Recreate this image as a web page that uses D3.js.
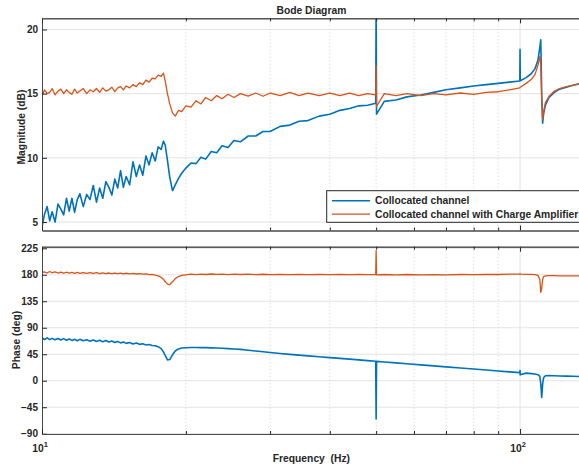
<!DOCTYPE html>
<html>
<head>
<meta charset="utf-8">
<script src="https://cdn.jsdelivr.net/npm/d3@7"></script>
<style>
body { margin: 0; background: #fff; overflow: hidden; }
svg text { font-family: "Liberation Sans", Arial, sans-serif; font-weight: bold; fill: #262626; }
</style>
</head>
<body>
<svg width="579" height="468"></svg>
<script>
// frequency points (Hz)
var freq = [
    10.0, 10.12, 10.25, 10.38, 10.5, 10.65, 10.8, 10.95, 11.1, 11.25,
    11.4, 11.55, 11.7, 11.85, 12.0, 12.2, 12.4, 12.6, 12.8, 13.0,
    13.2, 13.4, 13.6, 13.8, 14.0, 14.2, 14.4, 14.6, 14.8, 15.0,
    15.25, 15.5, 15.75, 16.0, 16.25, 16.5, 16.75, 17.0, 17.25, 17.5,
    17.75, 17.95, 18.1, 18.3, 18.5, 18.75, 19.0, 19.3, 19.6, 20.0,
    20.5, 21.0, 21.5, 22.0, 22.6, 23.2, 23.8, 24.5, 25.2, 26.0,
    27, 28, 29, 30, 31.5, 33, 34.5, 36, 38, 40,
    42, 44, 46, 48, 49.9, 50.0, 50.1, 52, 55, 58,
    62, 66, 70, 75, 80, 85, 90, 95, 99.9, 100.0,
    100.1, 103, 105.5, 107.5, 109, 110, 110.5, 111, 111.5, 112,
    113, 115, 118, 121, 125, 129, 134
];

// magnitude (dB)
var blueMag = [
    4.6, 5.6, 6.2, 5.1, 5.8, 5.0, 6.4, 6.0, 5.55, 6.85,
    5.85, 6.85, 5.75, 6.75, 7.2, 6.2, 7.15, 6.75, 7.85, 6.55,
    7.65, 6.85, 8.15, 7.7, 7.1, 8.35, 7.65, 9.0, 7.7, 8.55,
    7.9, 9.7, 8.55, 9.45, 8.65, 10.15, 9.45, 10.4, 9.75, 10.85,
    10.65, 11.3, 11.0, 9.8, 8.5, 7.45, 7.9, 8.4, 8.8, 9.2,
    9.6, 9.55, 10.05, 9.9, 10.5, 10.4, 10.95, 10.8, 11.35, 11.25,
    11.7, 11.7, 12.05, 12.05, 12.45, 12.55, 12.85, 12.9, 13.25, 13.4,
    13.7, 13.85, 14.05, 14.1, 14.25, 22, 13.4, 14.4, 14.5, 14.75,
    14.9, 15.1, 15.3, 15.45, 15.6, 15.7, 15.8, 15.9, 15.98, 18.45,
    16.0, 16.25, 16.55, 16.95, 17.6, 18.6, 19.2, 15.0, 12.7, 13.4,
    14.1, 14.7, 15.1, 15.35, 15.5, 15.65, 15.8
];
var orangeMag = [
    14.8, 15.3, 15.0, 15.1, 15.4, 14.9, 15.2, 15.35, 15.0, 15.3,
    15.1, 14.95, 15.35, 15.05, 15.2, 15.4, 15.0, 15.3, 15.15, 15.4,
    15.1, 15.45, 15.2, 15.3, 15.5, 15.15, 15.45, 15.55, 15.3, 15.6,
    15.45, 15.7, 15.55, 15.85, 15.7, 16.05, 15.9, 16.2, 16.15, 16.45,
    16.35, 16.6, 16.0, 15.0, 14.2, 13.5, 13.25, 13.7, 13.6, 14.05,
    13.95, 14.45, 14.2, 14.7, 14.45, 14.85, 14.6, 14.95, 14.7, 15.0,
    14.8, 15.05, 14.8, 15.05, 14.85, 15.1, 14.85, 15.05, 14.85, 15.05,
    14.85, 15.05, 14.85, 15.0, 14.9, 17.2, 14.0, 15.0, 14.85, 15.0,
    14.85, 15.0, 14.9, 15.05, 14.95, 15.1, 15.15, 15.3, 15.45, 15.5,
    15.5, 15.8, 16.1, 16.5, 17.2, 17.9, 17.3, 14.5, 13.0, 13.6,
    14.3, 14.8, 15.2, 15.4, 15.55, 15.65, 15.8
];

// phase (deg)
var bluePhase = [
    72.5, 70.0, 72.8, 69.8, 72.0, 69.5, 71.8, 69.2, 71.5, 68.8,
    71.0, 68.5, 70.5, 68.0, 70.3, 67.8, 69.8, 67.2, 69.2, 66.8,
    68.7, 66.3, 68.2, 65.8, 67.5, 65.0, 66.8, 64.3, 66.0, 63.5,
    65.0, 62.5, 64.0, 61.8, 62.8, 60.8, 61.5, 59.8, 59.5, 57.8,
    54.5, 49.0, 43.0, 35.5, 36.0, 44.0, 50.5, 54.0, 55.5, 56.0,
    56.5, 56.5, 56.3, 56.2, 55.9, 55.6, 55.2, 54.6, 54.0, 53.2,
    51.8, 50.5, 49.3, 48.0, 46.3, 44.8, 43.5, 42.3, 40.8, 39.3,
    38.0, 36.7, 35.4, 34.2, 33.1, -65, 32.9, 31.9, 30.3, 28.8,
    27.0, 25.2, 23.6, 21.7, 19.9, 18.2, 16.6, 15.1, 13.7, 17.5,
    10.0, 12.9, 12.1, 11.4, 10.2, 7.5, -5, -28.5, -6, 5,
    8.5, 8.8, 8.4, 8.1, 7.8, 7.5, 7.2
];
var orangePhase = [
    183.5, 185.0, 183.0, 185.5, 183.5, 184.8, 183.0, 184.5, 182.8, 184.3,
    183.0, 184.0, 182.5, 184.0, 182.5, 183.8, 182.3, 183.5, 182.3, 183.5,
    182.0, 183.3, 182.0, 183.0, 181.8, 183.0, 181.8, 182.8, 181.5, 182.6,
    181.5, 182.4, 181.3, 182.0, 181.0, 181.5, 180.3, 180.5, 179.3, 178.0,
    175.5, 172.5, 168.5, 164.0, 163.5, 168.0, 173.5, 177.0, 179.0, 180.0,
    181.0, 180.4, 181.2, 180.5, 181.3, 180.6, 181.0, 180.4, 181.2, 180.5,
    181.0, 180.3, 180.9, 180.3, 180.8, 180.2, 180.8, 180.2, 180.7, 180.2,
    180.6, 180.1, 180.6, 180.1, 180.3, 221.0, 180.0, 180.5, 180.0, 180.5,
    180.0, 180.4, 180.0, 180.5, 180.3, 180.8, 180.5, 181.0, 181.0, 182.5,
    181.2, 180.8, 180.6, 180.2, 179.0, 172.0, 150.0, 157.0, 172.0, 177.0,
    178.0, 178.5, 178.5, 178.3, 178.2, 178.0, 178.0
];

var magTicks = [5, 10, 15, 20];
var phaseTicks = [-90, -45, 0, 45, 90, 135, 180, 225];
var decadeTicks = [10, 100];
var minorTicks = [20, 30, 40, 50, 60, 70, 80, 90];
var seriesNames = ['Collocated channel', 'Collocated channel with Charge Amplifier'];
var colors = ['#0072bd', '#d95319'];
var widths = [1.6, 1.3];

var left = 42, right = 580.8;
var magBox = {top: 18.3, bottom: 230.5};
var phBox = {top: 246.7, bottom: 434};

var svg = d3.select('svg');

//scales
var xScale = d3.scaleLog()
    .domain([10, 134])
    .range([left, right]);
var yMag = d3.scaleLinear()
    .domain([4.34, 20.87])
    .range([magBox.bottom, magBox.top]);
var yPh = d3.scaleLinear()
    .domain([-90.5, 227.7])
    .range([phBox.bottom, phBox.top]);

function panel(id, box, yScale, yTicks, ys, label, labelX, labelY) {
    var g = svg.append('g');

    g.append('clipPath').attr('id', id)
        .append('rect')
        .attr('x', left).attr('y', box.top)
        .attr('width', right - left).attr('height', box.bottom - box.top);

    // grid
    g.selectAll('.hgrid').data(yTicks).enter().append('line')
        .attr('x1', left).attr('x2', right)
        .attr('y1', d => yScale(d)).attr('y2', d => yScale(d))
        .attr('stroke', '#e3e3e3').attr('stroke-width', 1);
    g.selectAll('.vminor').data(minorTicks).enter().append('line')
        .attr('x1', d => xScale(d)).attr('x2', d => xScale(d))
        .attr('y1', box.top).attr('y2', box.bottom)
        .attr('stroke', '#cfcfcf').attr('stroke-width', 1)
        .attr('stroke-dasharray', '1,2.5');
    g.append('line')
        .attr('x1', xScale(100)).attr('x2', xScale(100))
        .attr('y1', box.top).attr('y2', box.bottom)
        .attr('stroke', '#e3e3e3').attr('stroke-width', 1);

    // curves
    var line = d3.line()
        .x((d, i) => xScale(freq[i]))
        .y(d => yScale(d));
    ys.forEach(function(s, k) {
        g.append('path')
            .datum(s)
            .attr('clip-path', 'url(#' + id + ')')
            .attr('fill', 'none')
            .attr('stroke', colors[k])
            .attr('stroke-width', widths[k])
            .attr('stroke-linejoin', 'round')
            .attr('d', line);
    });

    // axes, ticks pointing inward
    var yAxis = d3.axisLeft(yScale).tickValues(yTicks).tickSize(-5).tickSizeOuter(0).tickPadding(4);
    g.append('g')
        .attr('transform', 'translate(' + [left, 0] + ')')
        .call(yAxis);
    [[box.bottom, d3.axisBottom], [box.top, d3.axisTop]].forEach(function(a) {
        g.append('g')
            .attr('transform', 'translate(' + [0, a[0]] + ')')
            .call(a[1](xScale).tickValues(decadeTicks).tickSize(-5).tickSizeOuter(0).tickFormat(''));
        g.append('g')
            .attr('transform', 'translate(' + [0, a[0]] + ')')
            .call(a[1](xScale).tickValues(minorTicks).tickSize(-3).tickSizeOuter(0).tickFormat(''));
    });
    g.selectAll('.domain').attr('stroke', '#4a4a4a').attr('stroke-width', 1);
    g.selectAll('.tick line').attr('stroke', '#262626');
    g.selectAll('.tick text').attr('font-size', 10).attr('fill', '#262626');

    g.append('text')
        .attr('transform', 'translate(' + [labelX, labelY] + ') rotate(-90)')
        .attr('text-anchor', 'middle')
        .attr('font-size', 10.3)
        .text(label);
}

panel('clipMag', magBox, yMag, magTicks, [blueMag, orangeMag], 'Magnitude (dB)', 25, 127);
panel('clipPh', phBox, yPh, phaseTicks, [bluePhase, orangePhase], 'Phase (deg)', 20, 340);

// decade labels 10^1, 10^2
decadeTicks.forEach(function(d) {
    var t = svg.append('text')
        .attr('x', xScale(d) - 2).attr('y', 452)
        .attr('text-anchor', 'middle')
        .attr('font-size', 10.3);
    t.append('tspan').text('10');
    t.append('tspan').attr('dy', -5).attr('font-size', 7.5).text(Math.round(Math.log10(d)));
});

svg.append('text')
    .attr('x', (left + right) / 2).attr('y', 462)
    .attr('text-anchor', 'middle')
    .attr('font-size', 10.3)
    .style('white-space', 'pre')
    .text('Frequency  (Hz)');

svg.append('text')
    .attr('x', (left + right) / 2).attr('y', 14)
    .attr('text-anchor', 'middle')
    .attr('font-size', 10.3)
    .text('Bode Diagram');

// legend
var lg = svg.append('g');
lg.append('rect')
    .attr('x', 326.7).attr('y', 190.7)
    .attr('width', 270).attr('height', 31.6)
    .attr('fill', '#fff').attr('stroke', '#262626').attr('stroke-width', 1);
seriesNames.forEach(function(name, k) {
    var y = 200.7 + k * 13.4;
    lg.append('line')
        .attr('x1', 332).attr('x2', 370)
        .attr('y1', y).attr('y2', y)
        .attr('stroke', colors[k]).attr('stroke-width', widths[k]);
    lg.append('text')
        .attr('x', 375).attr('y', y)
        .attr('dy', '0.35em')
        .attr('font-size', 10.3)
        .text(name);
});
</script>
</body>
</html>
